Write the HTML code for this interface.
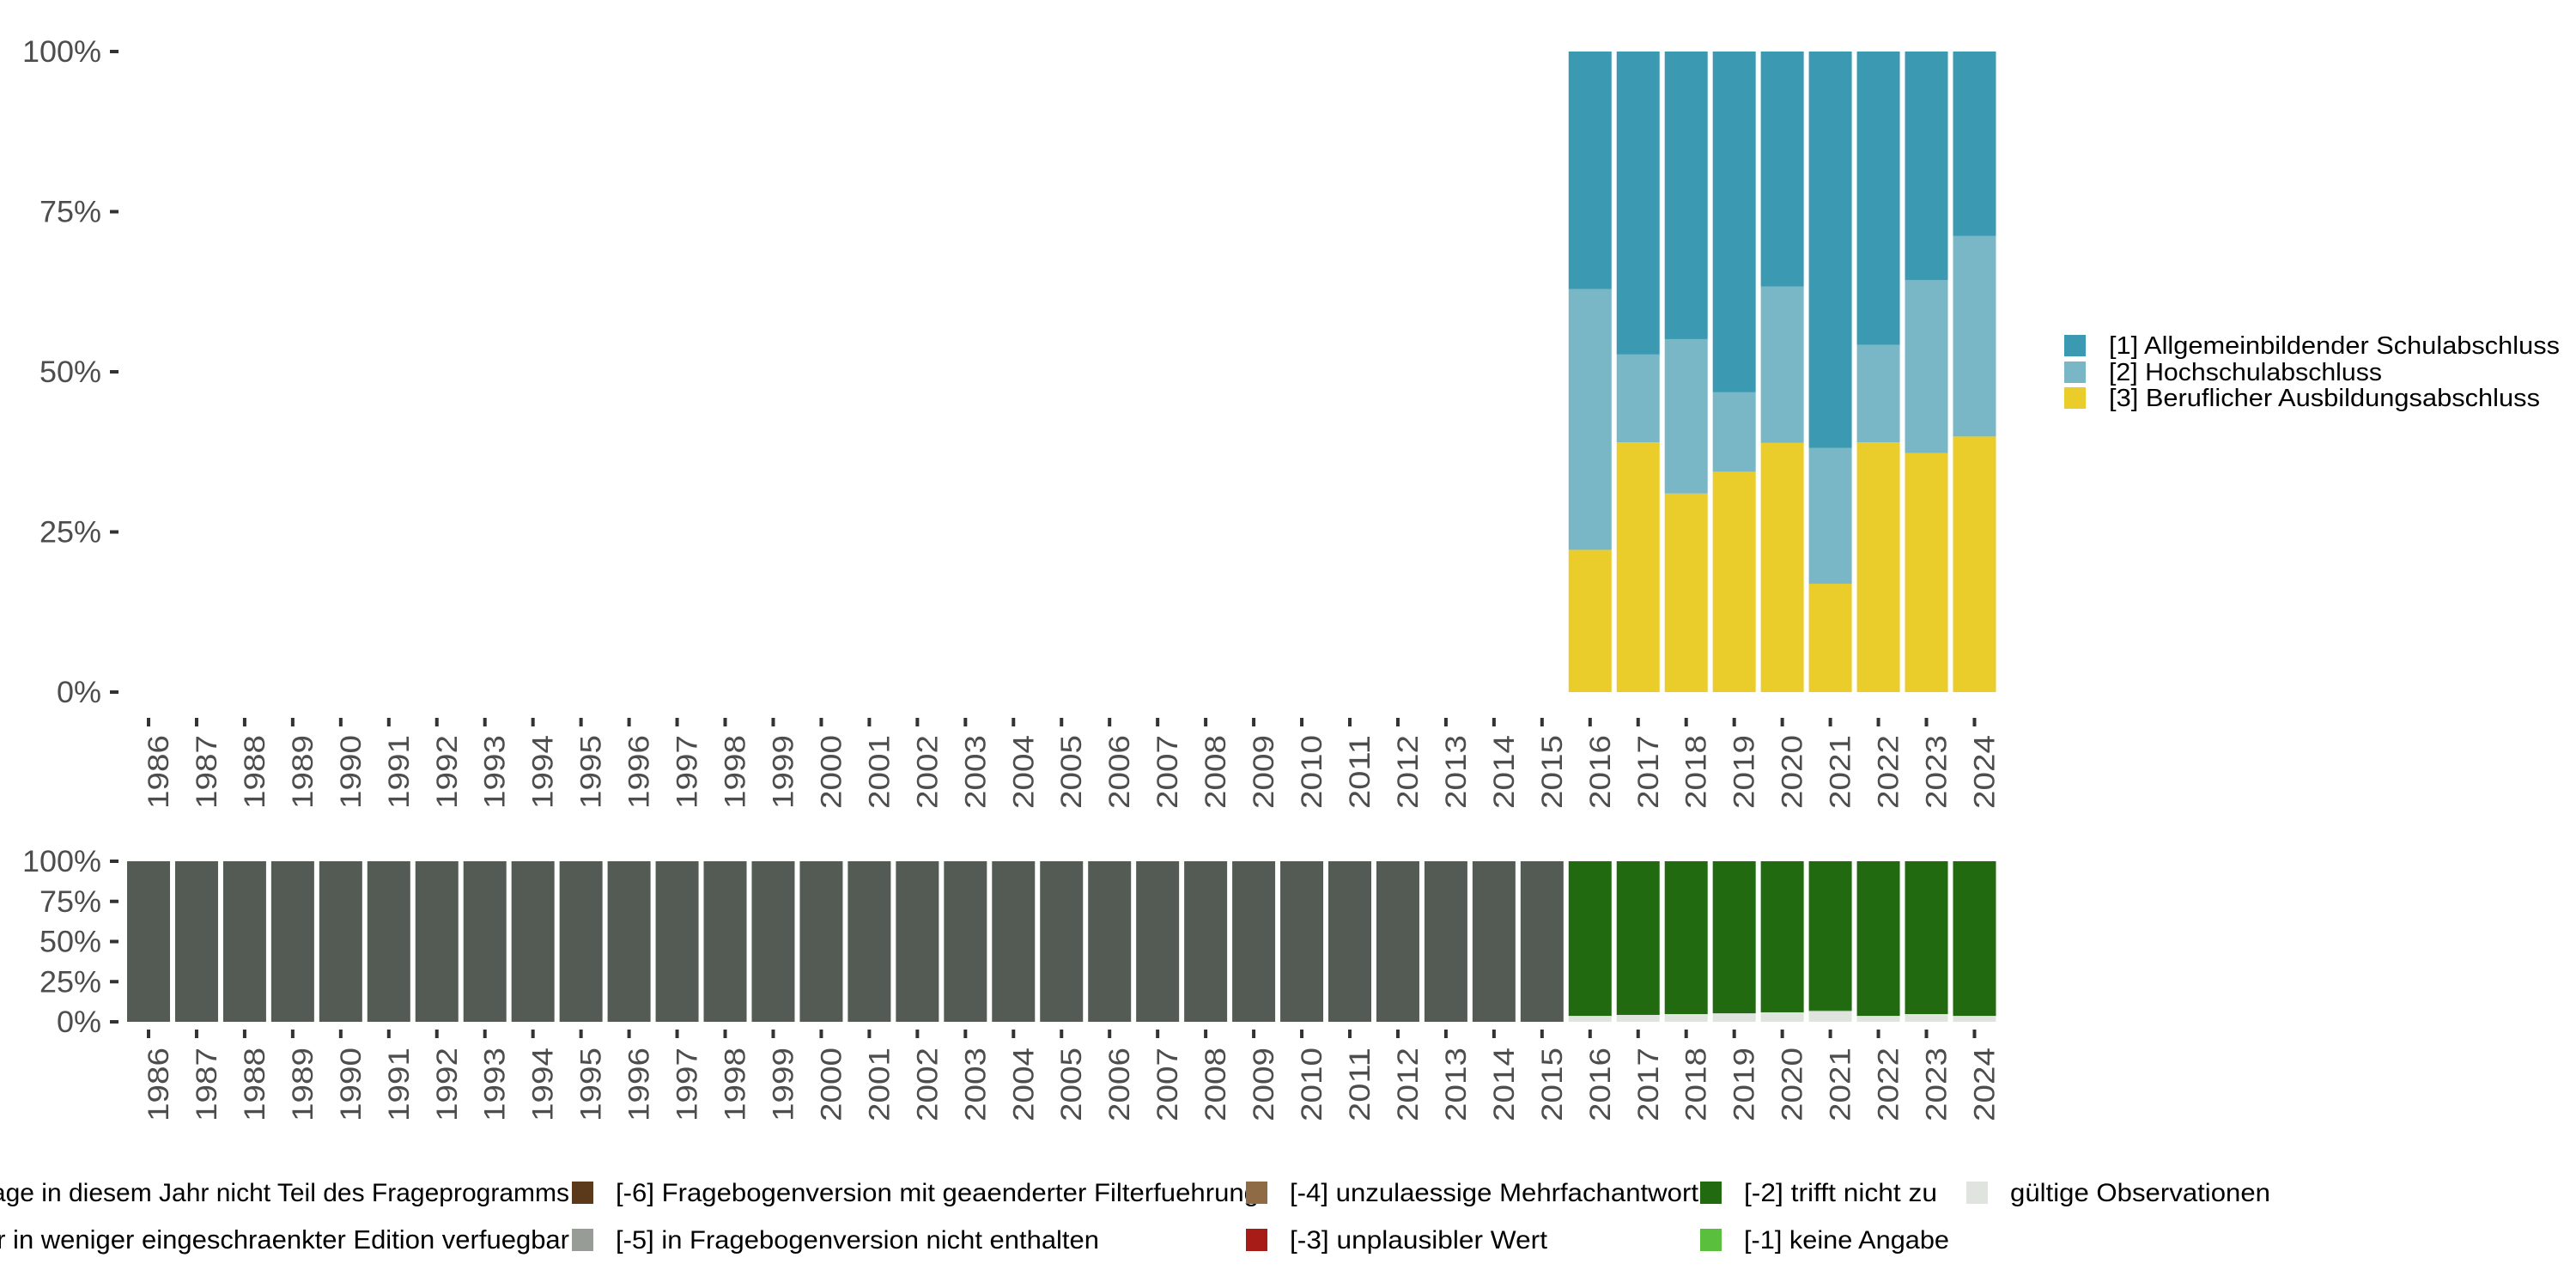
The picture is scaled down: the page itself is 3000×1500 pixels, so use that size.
<!DOCTYPE html>
<html><head><meta charset="utf-8"><style>
html,body{margin:0;padding:0;background:#fff;}
svg{display:block;font-family:"Liberation Sans",sans-serif;}
</style></head><body>
<svg id="chart" width="3000" height="1500" viewBox="0 0 3000 1500" xmlns="http://www.w3.org/2000/svg">
<g id="top"></g>
<g id="bottom"></g>
<g id="legend-top"></g>
<g id="legend-bottom"></g>
</svg>
<script>
const years = [1986,1987,1988,1989,1990,1991,1992,1993,1994,1995,1996,1997,1998,1999,2000,2001,2002,2003,2004,2005,2006,2007,2008,2009,2010,2011,2012,2013,2014,2015,2016,2017,2018,2019,2020,2021,2022,2023,2024];
const topYears = [2016,2017,2018,2019,2020,2021,2022,2023,2024];
const beruflich = [22.2,39.0,31.0,34.4,38.9,16.9,39.0,37.3,39.9];
const hochschule = [40.7,13.7,24.1,12.4,24.4,21.2,15.2,27.0,31.3];
const allgemein = [37.1,47.3,44.9,53.2,36.7,61.9,45.8,35.7,28.8];
const gueltig = [3.7,4.3,4.8,5.3,5.9,6.6,3.7,4.8,3.7];
const keineAngabe = [0,0,0,0,0,0.4,0,0,0];
const yTicks = [0,25,50,75,100];
const yTickLabels = ["0%","25%","50%","75%","100%"];

const NS="http://www.w3.org/2000/svg";
function mk(tag, attrs, parent){const e=document.createElementNS(NS,tag);for(const k in attrs)e.setAttribute(k,attrs[k]);parent.appendChild(e);return e;}
const xC = y => 173 + (years.indexOf(y))*55.96;
const BW = 50;
const topY = v => 806 - v/100*746;
const botY = v => 1190 - v/100*187;

const gT=document.getElementById('top'), gB=document.getElementById('bottom');

function axes(g, yf, tickTop, labTop, pfx){
  yTicks.forEach((t,i)=>{
    const tk=mk('rect',{x:128,y:yf(t)-2,width:10,height:4,fill:'#333'},g);
    
    
    const tx=mk('text',{x:118,y:yf(t)+12,'text-anchor':'end','font-size':35,fill:'#4d4d4d',textLength:yTickLabels[i].length*20+12,lengthAdjust:'spacingAndGlyphs'},g);
    tx.textContent=yTickLabels[i];
    
    
  });
  years.forEach(y=>{
    const cx=xC(y);
    const tk=mk('rect',{x:cx-2,y:tickTop,width:4,height:10,fill:'#333'},g);
    
    
    const tx=mk('text',{x:0,y:0,'text-anchor':'end','font-size':34,fill:'#4d4d4d',textLength:86,lengthAdjust:'spacingAndGlyphs',transform:`translate(${cx+23},${labTop}) rotate(-90)`},g);
    tx.textContent=y;
    
    
  });
}
axes(gT, topY, 836, 856, 'top');
axes(gB, botY, 1199, 1220, 'bottom');

topYears.forEach((y,i)=>{
  const cx=xC(y);
  const segs=[[beruflich[i],'#eacc2b','bar-beruflich'],[hochschule[i],'#7ab7c6','bar-hochschule'],[allgemein[i],'#3b99b1','bar-allgemein']];
  let base=0;
  segs.forEach(s=>{
    const r=mk('rect',{x:cx-BW/2,y:topY(base+s[0]),width:BW,height:topY(base)-topY(base+s[0]),fill:s[1]},gT);
    
    
    base+=s[0];
  });
});

years.forEach(y=>{
  const cx=xC(y);
  const i=topYears.indexOf(y);
  if(i<0){
    const r=mk('rect',{x:cx-BW/2,y:botY(100),width:BW,height:botY(0)-botY(100),fill:'#545b55'},gB);
    
    
  } else {
    const segs=[[gueltig[i],'#e0e4df','bar-valid'],[keineAngabe[i],'#5abf3c','bar-no-answer'],[100-gueltig[i]-keineAngabe[i],'#216a10','bar-not-applicable']];
    let base=0;
    segs.forEach(s=>{
      const r=mk('rect',{x:cx-BW/2,y:botY(base+s[0]),width:BW,height:botY(base)-botY(base+s[0]),fill:s[1]},gB);
      
      
      base+=s[0];
    });
  }
});

const lt=document.getElementById('legend-top');
const ltItems=[['[1] Allgemeinbildender Schulabschluss','#3b99b1',390,525],['[2] Hochschulabschluss','#7ab7c6',421,318],['[3] Beruflicher Ausbildungsabschluss','#eacc2b',451,502]];
ltItems.forEach(it=>{
  const r=mk('rect',{x:2404,y:it[2],width:25,height:25,fill:it[1]},lt);
  
  
  const t=mk('text',{x:2456,y:it[2]+22,'font-size':29,fill:'#000',textLength:it[3],lengthAdjust:'spacingAndGlyphs'},lt);
  t.textContent=it[0];
  
  
});

const lb=document.getElementById('legend-bottom');
const t1=mk('text',{x:663,y:1399,'text-anchor':'end','font-size':30,fill:'#000'},lb);
t1.textContent='[-8] Frage in diesem Jahr nicht Teil des Frageprogramms';


const t2=mk('text',{x:663,y:1454,'text-anchor':'end','font-size':31,fill:'#000'},lb);
t2.textContent='[-7] nur in weniger eingeschraenkter Edition verfuegbar';


const lbItems=[
 [666,1376,'#5a3a1a','[-6] Fragebogenversion mit geaenderter Filterfuehrung',749],
 [666,1431,'#989c96','[-5] in Fragebogenversion nicht enthalten',563],
 [1451,1376,'#8e6b45','[-4] unzulaessige Mehrfachantwort',476],
 [1451,1431,'#a81c18','[-3] unplausibler Wert',300],
 [1980,1376,'#216a10','[-2] trifft nicht zu',225],
 [1980,1431,'#5abf3c','[-1] keine Angabe',239],
 [2290,1376,'#e0e4df','gültige Observationen',303]
];
lbItems.forEach(it=>{
  const r=mk('rect',{x:it[0],y:it[1],width:25,height:26,fill:it[2]},lb);
  
  
  const t=mk('text',{x:it[0]+51,y:it[1]+23,'font-size':30,fill:'#000',textLength:it[4],lengthAdjust:'spacingAndGlyphs'},lb);
  t.textContent=it[3];
  
  
});
</script>
</body></html>
